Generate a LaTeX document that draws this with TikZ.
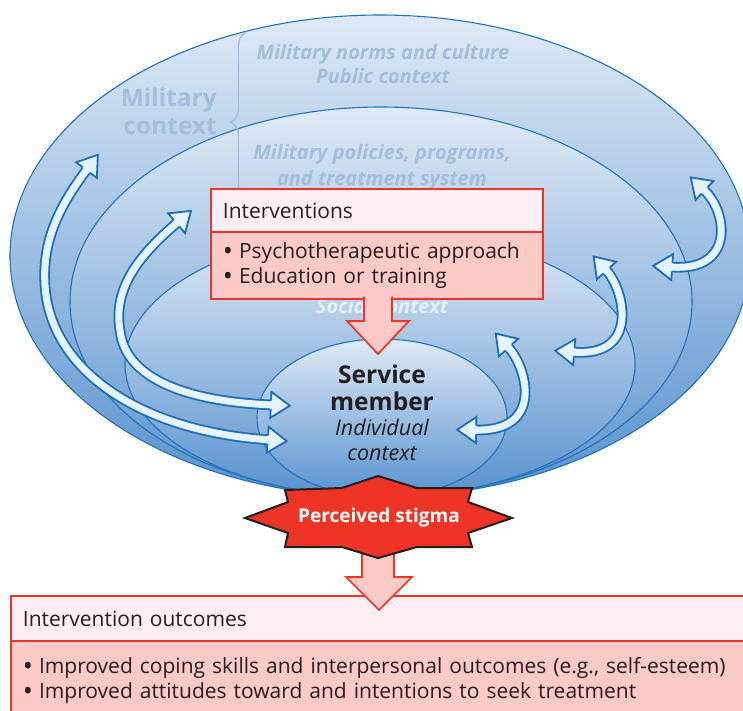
\documentclass[tikz,border=0pt]{standalone}
\usepackage{fontspec}
\setmainfont{Open Sans}
\usetikzlibrary{decorations.markings,decorations.pathreplacing}
\definecolor{ringline}{RGB}{31,115,184}
\definecolor{ringtop}{RGB}{223,234,246}
\definecolor{ringbot}{RGB}{88,146,206}
\definecolor{palebl}{RGB}{165,190,218}
\definecolor{socwhite}{RGB}{228,239,250}
\definecolor{arrfill}{RGB}{228,243,252}
\definecolor{arrline}{RGB}{26,110,182}
\definecolor{boxred}{RGB}{238,52,36}
\definecolor{boxhead}{RGB}{253,238,243}
\definecolor{boxbody}{RGB}{251,201,198}
\definecolor{txt}{RGB}{35,31,32}
\newcommand\myHeadF{%
  \fill[arrfill] (-1.5,-3.4) -- (0,-3.4) -- (0,-13) -- (19,0) -- (0,13) -- (0,3.4) -- (-1.5,3.4) -- cycle;
  \draw[arrline, line width=1.8pt, line join=miter, miter limit=10] (0,-4.4) -- (0,-13) -- (19,0) -- (0,13) -- (0,4.4);}
\newcommand\myHeadB{%
  \fill[arrfill] (1.5,-3.4) -- (0,-3.4) -- (0,-13) -- (-19,0) -- (0,13) -- (0,3.4) -- (1.5,3.4) -- cycle;
  \draw[arrline, line width=1.8pt, line join=miter, miter limit=10] (0,-4.4) -- (0,-13) -- (-19,0) -- (0,13) -- (0,4.4);}
\newcommand\mybul{\raisebox{-1.8pt}{\fontsize{27}{25}\selectfont •}\hspace{6pt}}
\tikzset{
  ring/.style={draw=ringline, line width=1.1pt, top color=ringtop, bottom color=ringbot},
  ringarrow/.style={draw=arrfill, line width=7pt,
    preaction={draw=arrline, line width=10.6pt},
    postaction={decorate, decoration={markings,
      mark=at position 0.006 with {\myHeadB},
      mark=at position 0.99 with {\myHeadF}}}},
  redbox/.style={draw=boxred, line width=1.8pt, rectangle, anchor=north west,
    inner xsep=12pt, inner ysep=0pt, align=left, text=txt,
    font=\fontsize{21}{25}\selectfont},
  blockarrow/.style={draw=boxred, fill=boxbody, line width=1.7pt, line join=miter},
  paletext/.style={text=palebl, font=\bfseries\itshape\fontsize{20}{24}\selectfont, align=center, inner sep=0pt},
}
\begin{document}
\begin{tikzpicture}[x=1pt,y=-1pt]
\clip (0,0) rectangle (743,710);
\fill[white] (0,0) rectangle (743,710);

% rings
\path[ring] (380,256) ellipse [x radius=370pt, y radius=241pt];
\path[ring] (381,302) ellipse [x radius=311pt, y radius=195pt];
\path[ring] (380,364) ellipse [x radius=255pt, y radius=133pt];
\path[ring] (382,418) ellipse [x radius=125pt, y radius=79pt];

% context labels
\node[text=palebl, font=\bfseries\fontsize{24.5}{28}\selectfont, align=right, anchor=east, inner sep=0pt] (milctx) at (217,111) {Military\\context};
\draw[palebl, line width=1.4pt, decorate, decoration={brace, amplitude=15pt}] (246,212) -- (246,32);
\node[paletext] (norms) at (383,64) {Military norms and culture\\Public context};
\node[paletext, font=\bfseries\itshape\fontsize{20}{26}\selectfont] (policies) at (382,167) {Military policies, programs,\\and treatment system};
\node[paletext, text=socwhite] (social) at (382,306) {Social context};

% curved arrows
\draw[ringarrow] (88,168) .. controls (60,205) and (42,240) .. (45,285) .. controls (50,370) and (140,432) .. (272,440);
\draw[ringarrow] (178,222) .. controls (145,250) and (112,285) .. (120,330) .. controls (125,380) and (190,402) .. (274,405);
\draw[ringarrow] (704,190) .. controls (728,212) and (735,272) .. (671,267);
\draw[ringarrow] (606,270) .. controls (625,290) and (640,358) .. (573,352);
\draw[ringarrow] (508,347) .. controls (527,367) and (545,432) .. (475,430);

% interventions box
\node[redbox, fill=boxbody, minimum width=332pt, minimum height=67pt, text width=308pt] (ibody) at (210,231) {\mybul Psychotherapeutic approach\\\mybul Education or training};
\node[redbox, fill=boxhead, minimum width=332pt, minimum height=43pt, text width=308pt] (ihead) at (210,188) {Interventions};
\draw[blockarrow] (364,296.5) -- (364,321) -- (347,321) -- (378,354) -- (409,321) -- (392,321) -- (392,296.5);

% service member
\node[text=txt, font=\bfseries\fontsize{24.5}{27}\selectfont, align=center, inner sep=0pt] (sm) at (382,387.5) {Service\\member};
\node[text=txt, font=\itshape\fontsize{21.5}{25}\selectfont, align=center, inner sep=0pt] (smctx) at (382,440) {Individual\\context};

% outcomes
\node[redbox, fill=boxbody, minimum width=740pt, minimum height=80pt, text width=716pt] (obody) at (10,640) {\mybul Improved coping skills and interpersonal outcomes (e.g., self-esteem)\\\mybul Improved attitudes toward and intentions to seek treatment};
\node[redbox, fill=boxhead, minimum width=740pt, minimum height=45pt, text width=716pt] (ohead) at (10,595) {Intervention outcomes};
\draw[blockarrow] (362,540) -- (362,577) -- (346,577) -- (379,610) -- (412,577) -- (394,577) -- (394,540) -- cycle;

% perceived stigma star
\draw[fill=boxred, draw=txt, line width=2pt, line join=miter] (378,476) -- (417,488) -- (472,488) -- (468,502) -- (512,518) -- (468,533) -- (472,547) -- (417,547) -- (378,558) -- (342,547) -- (285,547) -- (288,533) -- (245,518) -- (288,502) -- (285,490) -- (342,488) -- cycle;
\node[text=white, font=\bfseries\fontsize{19}{22}\selectfont, inner sep=0pt] (stigma) at (379,518) {Perceived stigma};
\end{tikzpicture}
\end{document}
